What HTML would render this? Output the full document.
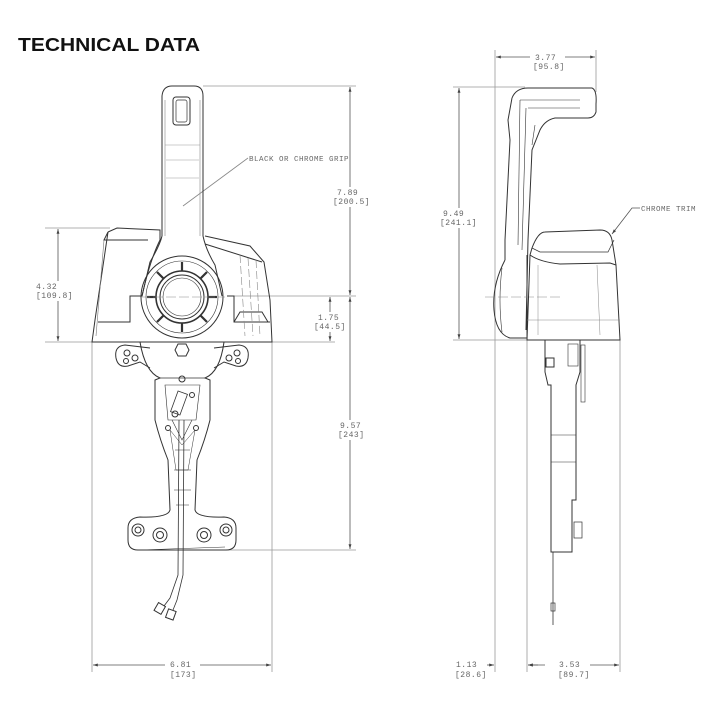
<!DOCTYPE html>
<html><head><meta charset="utf-8"><style>
html,body{margin:0;padding:0;background:#fff;}
svg{display:block}
.t{font-family:"Liberation Mono",monospace;font-size:8px;fill:#666;letter-spacing:0.5px}
</style></head><body>
<svg width="720" height="720" viewBox="0 0 720 720" xmlns="http://www.w3.org/2000/svg">
<defs>
<marker id="a" viewBox="0 0 10 10" refX="10" refY="5" markerWidth="6" markerHeight="6" orient="auto-start-reverse"><path d="M0,2 L10,5 L0,8z" fill="#444"/></marker>
</defs>
<text x="18" y="51" font-family="Liberation Sans,sans-serif" font-weight="bold" font-size="18" fill="#111" textLength="182" lengthAdjust="spacingAndGlyphs">TECHNICAL DATA</text>

<g stroke="#999" stroke-width="0.8" fill="none">
  <line x1="203" y1="86" x2="356" y2="86"/>
  <line x1="45" y1="228" x2="110" y2="228"/>
  <line x1="45" y1="342" x2="335" y2="342"/>
  <line x1="230" y1="296" x2="356" y2="296"/>
  <line x1="225" y1="550" x2="356" y2="550"/>
  <line x1="92" y1="342" x2="92" y2="672"/>
  <line x1="272" y1="342" x2="272" y2="672"/>
</g>
<g stroke="#555" stroke-width="0.8" fill="none">
  <line x1="58" y1="229" x2="58" y2="341" marker-start="url(#a)" marker-end="url(#a)"/>
  <line x1="350" y1="87" x2="350" y2="295" marker-start="url(#a)" marker-end="url(#a)"/>
  <line x1="330" y1="297" x2="330" y2="341" marker-start="url(#a)" marker-end="url(#a)"/>
  <line x1="350" y1="297" x2="350" y2="549" marker-start="url(#a)" marker-end="url(#a)"/>
  <line x1="93" y1="665" x2="165" y2="665" marker-start="url(#a)"/>
  <line x1="200" y1="665" x2="271" y2="665" marker-end="url(#a)"/>
</g>
<g fill="#fff">
  <rect x="34" y="281" width="40" height="20"/>
  <rect x="331" y="187" width="38" height="20"/>
  <rect x="312" y="312" width="36" height="20"/>
  <rect x="336" y="420" width="32" height="20"/>
</g>
<text class="t" x="36" y="289">4.32</text><text class="t" x="36" y="298">[109.8]</text>
<text class="t" x="337" y="195">7.89</text><text class="t" x="333" y="204">[200.5]</text>
<text class="t" x="318" y="320">1.75</text><text class="t" x="314" y="329">[44.5]</text>
<text class="t" x="340" y="428">9.57</text><text class="t" x="338" y="437">[243]</text>
<text class="t" x="170" y="667">6.81</text><text class="t" x="170" y="677">[173]</text>
<text class="t" x="249" y="161" style="font-size:7.5px">BLACK OR CHROME GRIP</text>
<line x1="248" y1="158" x2="183" y2="206" stroke="#888" stroke-width="0.8"/>

<g stroke="#333" stroke-width="1" fill="none">
  <path d="M108,232 L117,228 L160,230 L160,240 Q150,260 142,296 L130,296 L130,322 L98,322"/>
  <path d="M108,232 L95,320 L92,342 L272,342 L270,300 L264,262 L250,246 L205,236"/>
  <path d="M108,232 L104,240 L148,240"/>
  <path d="M205,244 L262,262"/>
  <path d="M227,296 L234,296 L234,322 L270,322"/>
  <path d="M234,322 L240,312 L262,312 L268,322" />
  <line x1="104" y1="240" x2="96" y2="336" stroke="#777" stroke-width="0.6"/>
  <line x1="240" y1="255" x2="245" y2="336" stroke="#888" stroke-width="0.6" stroke-dasharray="8 3"/>
  <line x1="248" y1="258" x2="253" y2="336" stroke="#888" stroke-width="0.6" stroke-dasharray="8 3"/>
  <line x1="256" y1="260" x2="260" y2="336" stroke="#888" stroke-width="0.6" stroke-dasharray="8 3"/>
  <path d="M162,236 L162,96 Q163,86 172,86 L194,86 Q203,86 203,96 L203,236"/>
  <path d="M165,236 L165,100 M200,236 L200,100" stroke="#888" stroke-width="0.6"/>
  <rect x="173" y="97" width="17" height="28" rx="3"/>
  <rect x="176" y="100" width="11" height="22" rx="2" stroke-width="0.7"/>
  <path d="M165,145 L200,145 M166,160 L199,160 M166,178 L199,178" stroke="#999" stroke-width="0.6"/>
  <path d="M162,236 Q160,245 150,262 L142,296 M203,236 Q206,250 215,265 L222,296" />
  <circle cx="182" cy="297" r="41"/>
  <circle cx="182" cy="297" r="36" stroke-width="0.6"/>
  <circle cx="182" cy="297" r="26" stroke-width="1.6"/>
  <circle cx="182" cy="297" r="22"/>
  <circle cx="182" cy="297" r="19" stroke-width="0.6"/>
  <g stroke-width="2.2">
    <line x1="182" y1="262" x2="182" y2="271"/><line x1="182" y1="323" x2="182" y2="332"/>
    <line x1="147" y1="297" x2="156" y2="297"/><line x1="208" y1="297" x2="217" y2="297"/>
    <line x1="157" y1="272" x2="164" y2="279"/><line x1="200" y1="315" x2="207" y2="322"/>
    <line x1="207" y1="272" x2="200" y2="279"/><line x1="164" y1="315" x2="157" y2="322"/>
  </g>
  <line x1="140" y1="297" x2="225" y2="297" stroke="#888" stroke-width="0.5" stroke-dasharray="10 3"/>
  <path d="M150,348 L125,345 Q114,346 116,358 Q118,368 128,366 L140,362 L150,368" />
  <circle cx="127" cy="353" r="3"/><circle cx="135" cy="358" r="3"/><circle cx="126" cy="361" r="2.5"/>
  <path d="M214,348 L239,345 Q250,346 248,358 Q246,368 236,366 L224,362 L214,368" />
  <circle cx="237" cy="353" r="3"/><circle cx="229" cy="358" r="3"/><circle cx="238" cy="361" r="2.5"/>
  <polygon points="178,344 186,344 189,350 186,356 178,356 175,350"/>
  <path d="M140,342 Q145,372 160,378 L155,380 L155,420 Q160,440 168,460 L170,510 Q168,518 140,517 Q128,518 128,528 L128,540 Q128,550 138,550 L226,550 Q236,550 236,540 L236,528 Q236,518 224,517 Q197,518 195,510 L197,460 Q205,440 210,420 L210,380 L205,378 Q220,372 224,342"/>
  <path d="M160,378 L205,378" stroke-width="0.7"/>
  <path d="M165,385 L200,385 L196,420 L168,420z" stroke-width="0.6"/>
  <path d="M172,420 L182,440 L192,420 M175,450 L190,450 M174,470 L191,470 M174,490 L191,490 M176,505 L189,505" stroke-width="0.6"/>
  <path d="M170,430 L182,445 L195,430 L188,470 L176,470z" stroke-width="0.5"/>
  <rect x="174" y="392" width="10" height="22" transform="rotate(20 179 403)" stroke-width="0.8"/>
  <circle cx="182" cy="379" r="3"/><circle cx="175" cy="414" r="3"/><circle cx="192" cy="395" r="2.5"/>
  <circle cx="168" cy="428" r="2.5"/><circle cx="196" cy="428" r="2.5"/>
  <circle cx="138" cy="530" r="6"/><circle cx="138" cy="530" r="3"/>
  <circle cx="160" cy="535" r="7"/><circle cx="160" cy="535" r="3.5"/>
  <circle cx="204" cy="535" r="7"/><circle cx="204" cy="535" r="3.5"/>
  <circle cx="226" cy="530" r="6"/><circle cx="226" cy="530" r="3"/>
  <line x1="140" y1="550" x2="225" y2="547" stroke-width="0.5"/>
  <path d="M179,420 L178,575 L170,598 L164,606 M184,420 L183,575 L177,600 L173,610" stroke-width="0.8"/>
  <rect x="156" y="604" width="8" height="9" transform="rotate(30 160 608)"/>
  <rect x="167" y="610" width="8" height="9" transform="rotate(20 171 614)"/>
</g>

<g stroke="#999" stroke-width="0.8" fill="none">
  <line x1="495" y1="50" x2="495" y2="672"/>
  <line x1="596" y1="50" x2="596" y2="92"/>
  <line x1="527" y1="340" x2="527" y2="672"/>
  <line x1="620" y1="340" x2="620" y2="672"/>
  <line x1="453" y1="87" x2="525" y2="87"/>
  <line x1="453" y1="340" x2="527" y2="340"/>
</g>
<g stroke="#555" stroke-width="0.8" fill="none">
  <line x1="496" y1="57" x2="530" y2="57" marker-start="url(#a)"/>
  <line x1="565" y1="57" x2="595" y2="57" marker-end="url(#a)"/>
  <line x1="459" y1="88" x2="459" y2="339" marker-start="url(#a)" marker-end="url(#a)"/>
  <line x1="484" y1="665" x2="494" y2="665" marker-end="url(#a)"/>
  <line x1="538" y1="665" x2="528" y2="665" marker-end="url(#a)"/>
  <line x1="472" y1="665" x2="484" y2="665"/>
  <line x1="528" y1="665" x2="545" y2="665" marker-start="url(#a)"/>
  <line x1="590" y1="665" x2="619" y2="665" marker-end="url(#a)"/>
</g>
<g fill="#fff">
  <rect x="438" y="208" width="38" height="20"/>
  <rect x="453" y="659" width="34" height="20"/>
</g>
<text class="t" x="535" y="60">3.77</text><text class="t" x="533" y="69">[95.8]</text>
<text class="t" x="443" y="216">9.49</text><text class="t" x="440" y="225">[241.1]</text>
<text class="t" x="456" y="667">1.13</text><text class="t" x="455" y="677">[28.6]</text>
<text class="t" x="559" y="667">3.53</text><text class="t" x="558" y="677">[89.7]</text>
<text class="t" x="641" y="211" style="font-size:7.5px">CHROME TRIM</text>
<path d="M640,208 L632,208 L612,234" stroke="#555" stroke-width="0.8" fill="none" marker-end="url(#a)"/>

<g stroke="#333" stroke-width="1" fill="none">
  <path d="M512,98 Q516,88 528,88 L592,88 Q597,90 596,104 L596,112 Q594,118 588,118 L555,118 Q545,120 540,130 L532,150 L528,240 L526,330"/>
  <path d="M512,98 L508,120 L510,140 L505,240 L505,260"/>
  <path d="M520,100 L580,100 M528,108 L580,108" stroke-width="0.6"/>
  <path d="M520,100 L518,245 M526,108 L522,250" stroke-width="0.6"/>
  <path d="M535,125 L532,145" stroke-width="0.6"/>
  <path d="M505,260 Q492,285 494,310 Q496,334 510,338 L527,338 L527,255"/>
  <path d="M502,268 Q498,300 502,332" stroke-width="0.6"/>
  <line x1="485" y1="297" x2="560" y2="297" stroke="#888" stroke-width="0.5" stroke-dasharray="10 3"/>
  <path d="M545,232 Q538,232 532,248 L530,255 L527,340 L620,340 L616,265 L612,240 Q610,230 600,230 Z"/>
  <path d="M532,248 L540,252 L608,252 L614,240" stroke-width="0.7"/>
  <path d="M530,255 Q540,262 560,264 L610,263 L616,265"/>
  <path d="M527,320 L620,320 M538,265 L538,335 M597,265 L600,335" stroke-width="0.5" stroke="#888"/>
  <path d="M545,340 L545,372 L548,385 L551,385 L551,552 L572,552 L572,500 L576,500 L576,385 L580,372 L580,340"/>
  <rect x="546" y="358" width="8" height="9"/>
  <rect x="568" y="344" width="10" height="22" stroke-width="0.6"/>
  <rect x="581" y="345" width="4" height="57" stroke-width="0.6"/>
  <line x1="551" y1="435" x2="576" y2="435" stroke-width="0.6"/>
  <line x1="551" y1="462" x2="576" y2="462" stroke-width="0.6"/>
  <rect x="574" y="522" width="8" height="16" stroke-width="0.7"/>
  <line x1="553" y1="552" x2="553" y2="625" stroke-width="0.8"/>
  <rect x="551" y="603" width="4" height="8" stroke-width="0.7"/>
</g>
</svg>
</body></html>
